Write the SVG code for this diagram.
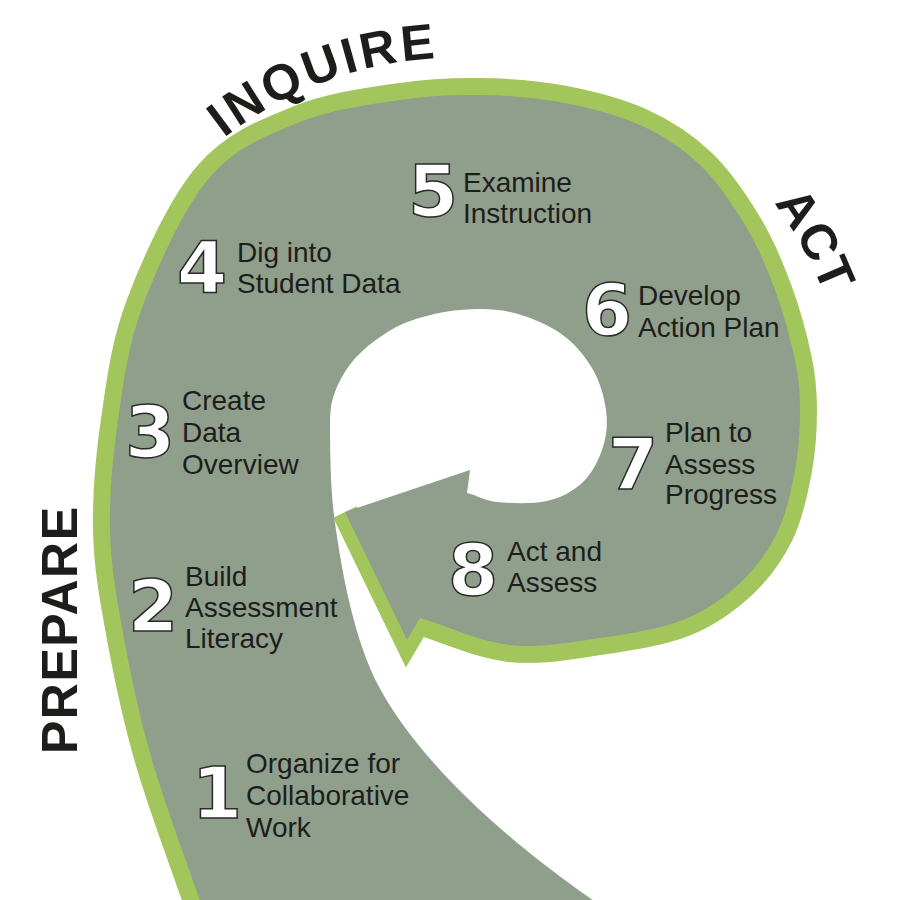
<svg xmlns="http://www.w3.org/2000/svg" width="900" height="900" viewBox="0 0 900 900">
<defs>
<style>
.lbl{font-family:"Liberation Sans",Arial,sans-serif;font-size:28px;fill:#1d1d1b}
.num{font-family:"DejaVu Sans",sans-serif;font-weight:bold;font-size:72px;fill:#ffffff;stroke:#2a2a2a;stroke-width:1.5px}
.stage{font-family:"Liberation Sans",Arial,sans-serif;font-weight:bold;font-size:50px;fill:#1d1d1b}
.edge{fill:none;stroke:#a3c65c;stroke-linejoin:miter;stroke-miterlimit:4}
</style>
<path id="arcInq" d="M 224,138 A 380 380 0 0 1 556,70.5"/>
<path id="arcAct" d="M 774,203 A 393 393 0 0 1 849.5,403.2"/>
</defs>
<rect width="900" height="900" fill="#ffffff"/>
<g id="spiral">
<path id="spiral-edge" class="edge" stroke-width="34" d="M 205,915 C 187.3,863.3 165.7,807 152,760 C 138.3,713 130,671.3 123,633 C 116,594.7 110.8,565.5 110,530 C 109.2,494.5 112.5,457.5 118,420 C 123.5,382.5 127.7,345.5 143,305 C 158.3,264.5 183.8,207.5 210,177 C 236.2,146.5 268.3,134.8 300,122 C 331.7,109.2 370,104.5 400,100 C 430,95.5 453.3,94.7 480,95 C 506.7,95.3 533.3,97 560,102 C 586.7,107 616.7,114.5 640,125 C 663.3,135.5 682.5,148.3 700,165 C 717.5,181.7 732.5,204.2 745,225 C 757.5,245.8 766.7,267.5 775,290 C 783.3,312.5 790.8,340 795,360 C 799.2,380 800,391.7 800,410 C 800,428.3 798.8,449.5 795,470 C 791.2,490.5 786.2,514.2 777,533 C 767.8,551.8 755.7,568.5 740,583 C 724.3,597.5 706.3,610.8 683,620 C 659.7,629.2 628.8,633.8 600,638 C 571.2,642.2 540,648.3 510,645 C 480,641.7 450,627 420,618"/>
<path id="arrow-edge" class="edge" stroke-width="26" d="M 510,645 C 480,641.7 450,627 420,618 L 407,640 L 345,512"/>
<path id="spiral-body" fill="#8f9f8c" d="M 205,915 C 187.3,863.3 165.7,807 152,760 C 138.3,713 130,671.3 123,633 C 116,594.7 110.8,565.5 110,530 C 109.2,494.5 112.5,457.5 118,420 C 123.5,382.5 127.7,345.5 143,305 C 158.3,264.5 183.8,207.5 210,177 C 236.2,146.5 268.3,134.8 300,122 C 331.7,109.2 370,104.5 400,100 C 430,95.5 453.3,94.7 480,95 C 506.7,95.3 533.3,97 560,102 C 586.7,107 616.7,114.5 640,125 C 663.3,135.5 682.5,148.3 700,165 C 717.5,181.7 732.5,204.2 745,225 C 757.5,245.8 766.7,267.5 775,290 C 783.3,312.5 790.8,340 795,360 C 799.2,380 800,391.7 800,410 C 800,428.3 798.8,449.5 795,470 C 791.2,490.5 786.2,514.2 777,533 C 767.8,551.8 755.7,568.5 740,583 C 724.3,597.5 706.3,610.8 683,620 C 659.7,629.2 628.8,633.8 600,638 C 571.2,642.2 540,648.3 510,645 C 480,641.7 450,627 420,618 L 407,640 L 345,512 L 470,470 L 467,493 C 476.5,495 483.7,500.7 497,502 C 510.3,503.3 532.7,504.3 547,501 C 561.3,497.7 573.7,491 583,482 C 592.3,473 599.2,459 603,447 C 606.8,435 607.8,423.2 606,410 C 604.2,396.8 599.7,380.8 592,368 C 584.3,355.2 573.7,342.3 560,333 C 546.3,323.7 526.7,315.8 510,312 C 493.3,308.2 476.2,308.7 460,310 C 443.8,311.3 426.3,315.5 413,320 C 399.7,324.5 390.2,330 380,337 C 369.8,344 359.5,352.8 352,362 C 344.5,371.2 338.7,382.3 335,392 C 331.3,401.7 330.7,407 330,420 C 330,460 331,495 335,523 C 343,580 355,640 378,685 C 412,750 490,830 600,905 L 612,915 Z"/>
</g>
<g id="stage-inquire"><text class="stage" letter-spacing="3.5"><textPath href="#arcInq">INQUIRE</textPath></text></g>
<g id="stage-act"><text class="stage" letter-spacing="1"><textPath href="#arcAct">ACT</textPath></text></g>
<g id="stage-prepare"><text class="stage" letter-spacing="1.5" transform="translate(77,754) rotate(-90)">PREPARE</text></g>
<g id="step1"><text class="num" x="192" y="818">1</text><text class="lbl"><tspan x="246" y="773">Organize for</tspan><tspan x="246" y="805">Collaborative</tspan><tspan x="246" y="837">Work</tspan></text></g>
<g id="step2"><text class="num" x="128" y="631">2</text><text class="lbl"><tspan x="185" y="586">Build</tspan><tspan x="185" y="617">Assessment</tspan><tspan x="185" y="648">Literacy</tspan></text></g>
<g id="step3"><text class="num" x="125" y="457">3</text><text class="lbl"><tspan x="182" y="410">Create</tspan><tspan x="182" y="442">Data</tspan><tspan x="182" y="474">Overview</tspan></text></g>
<g id="step4"><text class="num" x="177" y="292">4</text><text class="lbl"><tspan x="237" y="262">Dig into</tspan><tspan x="237" y="293">Student Data</tspan></text></g>
<g id="step5"><text class="num" x="408" y="216">5</text><text class="lbl"><tspan x="463" y="192">Examine</tspan><tspan x="463" y="223">Instruction</tspan></text></g>
<g id="step6"><text class="num" x="582" y="335">6</text><text class="lbl"><tspan x="638" y="305">Develop</tspan><tspan x="638" y="337">Action Plan</tspan></text></g>
<g id="step7"><text class="num" x="608" y="489">7</text><text class="lbl"><tspan x="665" y="442">Plan to</tspan><tspan x="665" y="474">Assess</tspan><tspan x="665" y="504">Progress</tspan></text></g>
<g id="step8"><text class="num" x="448" y="595">8</text><text class="lbl"><tspan x="507" y="561">Act and</tspan><tspan x="507" y="592">Assess</tspan></text></g>
</svg>
